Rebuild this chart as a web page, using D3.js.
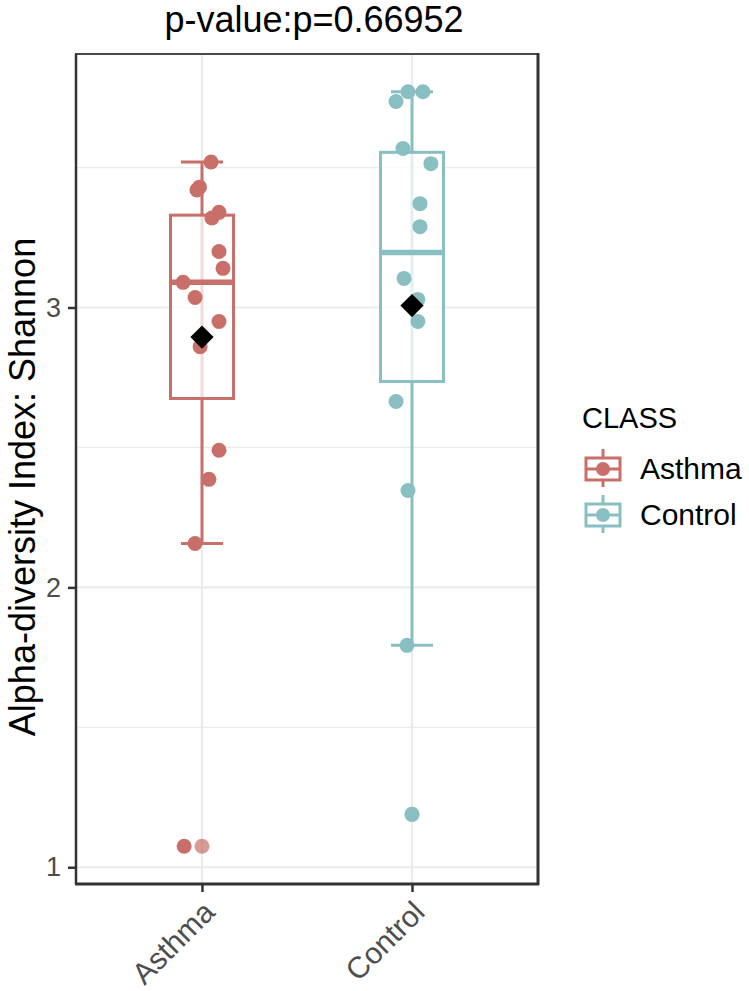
<!DOCTYPE html>
<html>
<head>
<meta charset="utf-8">
<script src="https://cdn.jsdelivr.net/npm/d3@7"></script>
<style>
  html, body { margin: 0; padding: 0; background: #ffffff; }
  svg { display: block; font-family: "Liberation Sans", Arial, sans-serif; }
</style>
</head>
<body>
<svg id="chart" width="749" height="991"></svg>
<script>
// ---- data ----
const categories = ["Asthma", "Control"];
const asthmaValues = [3.52, 3.43, 3.42, 3.34, 3.32, 3.20, 3.14, 3.09, 3.036, 2.95, 2.86, 2.49, 2.386, 2.157, 1.075];
const asthmaJitter = [0.043, -0.012, -0.024, 0.081, 0.047, 0.081, 0.10, -0.09, -0.033, 0.081, -0.009, 0.081, 0.033, -0.033, -0.085];
const controlValues = [3.771, 3.771, 3.736, 3.568, 3.514, 3.371, 3.289, 3.104, 3.029, 2.95, 2.664, 2.346, 1.793, 1.189];
const controlJitter = [-0.019, 0.052, -0.076, -0.043, 0.09, 0.038, 0.038, -0.038, 0.028, 0.028, -0.076, -0.019, -0.024, 0.0];
const yTicks = [1, 2, 3];
const yMinorTicks = [1.5, 2.5, 3.5];
const colors = ["#C96F69", "#8ABFC2"];
const titleText = "p-value:p=0.66952";
const yTitle = "Alpha-diversity Index: Shannon";
const legendTitle = "CLASS";

const groups = [
  { name: categories[0], values: asthmaValues, jitter: asthmaJitter, color: colors[0] },
  { name: categories[1], values: controlValues, jitter: controlJitter, color: colors[1] }
];

// ---- layout ----
const svg = d3.select("#chart");
const panel = { left: 76, right: 538, top: 54, bottom: 884 };

const allVals = asthmaValues.concat(controlValues);
const ext = d3.extent(allVals);
const pad = (ext[1] - ext[0]) * 0.05;

const x = d3.scalePoint().domain(categories).range([panel.left, panel.right]).padding(0.6);
const unit = x.step();
const y = d3.scaleLinear().domain([ext[0] - pad, ext[1] + pad]).range([panel.bottom, panel.top]);

// stats
groups.forEach(g => {
  const s = g.values.slice().sort(d3.ascending);
  const q1 = d3.quantileSorted(s, 0.25), med = d3.quantileSorted(s, 0.5), q3 = d3.quantileSorted(s, 0.75);
  const iqr = q3 - q1;
  const lo = q1 - 1.5 * iqr, hi = q3 + 1.5 * iqr;
  g.q1 = q1; g.med = med; g.q3 = q3;
  g.wlo = d3.min(s.filter(v => v >= lo));
  g.whi = d3.max(s.filter(v => v <= hi));
  g.outliers = s.filter(v => v < lo || v > hi);
  g.mean = d3.mean(s);
});

// ---- grid ----
const grid = svg.append("g");
yMinorTicks.forEach(t => {
  grid.append("line").attr("x1", panel.left).attr("x2", panel.right)
    .attr("y1", y(t)).attr("y2", y(t)).attr("stroke", "#EBEBEB").attr("stroke-width", 1.2);
});
yTicks.forEach(t => {
  grid.append("line").attr("x1", panel.left).attr("x2", panel.right)
    .attr("y1", y(t)).attr("y2", y(t)).attr("stroke", "#EBEBEB").attr("stroke-width", 2.2);
});
categories.forEach(c => {
  grid.append("line").attr("x1", x(c)).attr("x2", x(c))
    .attr("y1", panel.top).attr("y2", panel.bottom).attr("stroke", "#EBEBEB").attr("stroke-width", 2.2);
});

// ---- boxes ----
const boxW = 0.3 * unit, capW = 0.2 * unit;
groups.forEach(g => {
  const cx = x(g.name);
  const gg = svg.append("g");
  gg.append("line").attr("x1", cx).attr("x2", cx).attr("y1", y(g.whi)).attr("y2", y(g.wlo))
    .attr("stroke", g.color).attr("stroke-width", 3);
  [g.whi, g.wlo].forEach(v => {
    gg.append("line").attr("x1", cx - capW / 2).attr("x2", cx + capW / 2)
      .attr("y1", y(v)).attr("y2", y(v)).attr("stroke", g.color).attr("stroke-width", 3);
  });
  gg.append("rect").attr("x", cx - boxW / 2).attr("width", boxW)
    .attr("y", y(g.q3)).attr("height", y(g.q1) - y(g.q3))
    .attr("fill", "#ffffff").attr("fill-opacity", 0.75)
    .attr("stroke", g.color).attr("stroke-width", 3);
  gg.append("line").attr("x1", cx - boxW / 2).attr("x2", cx + boxW / 2)
    .attr("y1", y(g.med)).attr("y2", y(g.med)).attr("stroke", g.color).attr("stroke-width", 5.5);
  g.outliers.forEach(v => {
    gg.append("circle").attr("cx", cx).attr("cy", y(v)).attr("r", 7.5)
      .attr("fill", g.color).attr("fill-opacity", 0.7);
  });
  g.values.forEach((v, i) => {
    gg.append("circle").attr("cx", cx + g.jitter[i] * unit).attr("cy", y(v)).attr("r", 7.5)
      .attr("fill", g.color);
  });
  gg.append("path").attr("d", d3.symbol().type(d3.symbolSquare).size(270)())
    .attr("transform", `translate(${cx},${y(g.mean)}) rotate(45)`)
    .attr("fill", "#000000");
});

// ---- panel border ----
svg.append("rect").attr("x", panel.left).attr("y", panel.top)
  .attr("width", panel.right - panel.left).attr("height", panel.bottom - panel.top)
  .attr("fill", "none").attr("stroke", "#4a4a4a").attr("stroke-width", 2);
svg.append("line").attr("x1", panel.right).attr("x2", panel.right).attr("y1", panel.top - 1).attr("y2", panel.bottom + 1)
  .attr("stroke", "#333333").attr("stroke-width", 3);
svg.append("line").attr("x1", panel.left - 1).attr("x2", panel.right + 1).attr("y1", panel.bottom).attr("y2", panel.bottom)
  .attr("stroke", "#333333").attr("stroke-width", 3);
svg.append("line").attr("x1", panel.left).attr("x2", panel.left).attr("y1", panel.top).attr("y2", panel.bottom)
  .attr("stroke", "#333333").attr("stroke-width", 2.5);

// ---- axes ----
const yAxis = svg.append("g").attr("transform", `translate(${panel.left},0)`)
  .call(d3.axisLeft(y).tickValues(yTicks).tickSize(8).tickPadding(7).tickFormat(d3.format("d")));
yAxis.select(".domain").remove();
yAxis.selectAll(".tick line").attr("stroke", "#333333").attr("stroke-width", 2.5);
yAxis.selectAll(".tick text").attr("fill", "#4D4D4D").style("font-size", "27px")
  .style("font-family", "Liberation Sans, Arial, sans-serif");

const xAxis = svg.append("g").attr("transform", `translate(0,${panel.bottom})`)
  .call(d3.axisBottom(x).tickSize(8).tickPadding(4));
xAxis.select(".domain").remove();
xAxis.selectAll(".tick line").attr("stroke", "#333333").attr("stroke-width", 2.5);
xAxis.selectAll(".tick text").attr("fill", "#4D4D4D").style("font-size", "30px")
  .style("font-family", "Liberation Sans, Arial, sans-serif")
  .attr("text-anchor", "end").attr("dy", null).attr("y", 0)
  .attr("transform", "translate(14,30) rotate(-45)");

// ---- titles ----
svg.append("text").attr("x", 314).attr("y", 32).attr("text-anchor", "middle")
  .style("font-size", "36px").attr("fill", "#000").text(titleText);
svg.append("text").attr("transform", `translate(35,${487}) rotate(-90)`).attr("text-anchor", "middle")
  .style("font-size", "36px").attr("fill", "#000").text(yTitle);

// ---- legend ----
const lg = svg.append("g");
lg.append("text").attr("x", 582).attr("y", 428).style("font-size", "29px").attr("fill", "#000").text(legendTitle);
groups.forEach((g, i) => {
  const cy = 469 + i * 46, kx = 603;
  lg.append("line").attr("x1", kx).attr("x2", kx).attr("y1", cy - 20).attr("y2", cy + 18)
    .attr("stroke", g.color).attr("stroke-width", 3);
  lg.append("rect").attr("x", kx - 17).attr("y", cy - 11).attr("width", 34).attr("height", 22)
    .attr("fill", "#ffffff").attr("stroke", g.color).attr("stroke-width", 3);
  lg.append("line").attr("x1", kx - 17).attr("x2", kx + 17).attr("y1", cy).attr("y2", cy)
    .attr("stroke", g.color).attr("stroke-width", 3);
  lg.append("circle").attr("cx", kx).attr("cy", cy).attr("r", 7).attr("fill", g.color);
  lg.append("text").attr("x", 640).attr("y", cy + 10).style("font-size", "30px").attr("fill", "#000").text(g.name);
});
</script>
</body>
</html>
